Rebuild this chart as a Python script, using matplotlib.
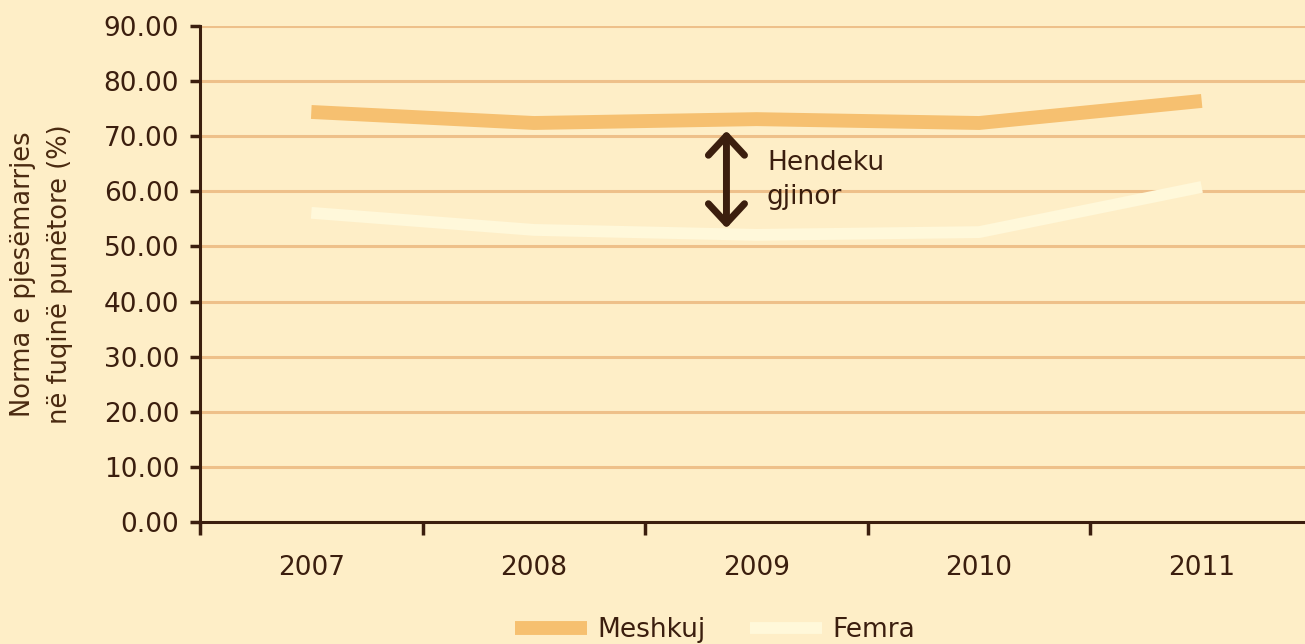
import numpy as np
import matplotlib.pyplot as plt

# data
years = ['2007', '2008', '2009', '2010', '2011']
meshkuj = [74.4, 72.4, 73.1, 72.4, 76.4]
femra = [56.1, 53.0, 52.1, 52.6, 60.8]
yticks = [0, 10, 20, 30, 40, 50, 60, 70, 80, 90]

bg = '#FEEEC7'
dark = '#3B1E0E'
c_m = '#F6C070'
c_f = '#FFF8DA'
c_grid = '#EEC08A'

plt.rcParams['font.family'] = 'DejaVu Sans'

fig = plt.figure(figsize=(13.05, 6.44), dpi=100, facecolor=bg)
ax = fig.add_axes([200/1305, 1-522/644, 1113/1305, 496/644], facecolor=bg)

x = np.arange(len(years))
ax.plot(x, meshkuj, color=c_m, lw=10, solid_capstyle='butt', solid_joinstyle='round', zorder=3, label='Meshkuj')
ax.plot(x, femra, color=c_f, lw=8.5, solid_capstyle='butt', solid_joinstyle='round', zorder=3, label='Femra')

ax.set_xlim(-0.5, 4.5)
ax.set_ylim(0, 90)
ax.set_yticks(yticks)
ax.set_yticklabels(['%.2f' % v for v in yticks])
ax.set_xticks(x)
ax.set_xticklabels(years)
ax.set_xticks(np.arange(-0.5, 5.0, 1.0), minor=True)

for v in yticks[1:]:
    ax.axhline(v, color=c_grid, lw=2.2, zorder=1)

for s in ['top', 'right']:
    ax.spines[s].set_visible(False)
ax.spines['left'].set_color(dark)
ax.spines['bottom'].set_color(dark)
ax.spines['left'].set_linewidth(2.2)
ax.spines['bottom'].set_linewidth(2.2)
ax.spines['bottom'].set_zorder(4)

ax.tick_params(axis='y', colors=dark, length=7, width=2.5, pad=8, labelsize=19)
ax.tick_params(axis='x', which='major', length=0, pad=24, labelsize=19, labelcolor=dark)
ax.tick_params(axis='x', which='minor', length=9, width=2.5, color=dark)

ax.set_ylabel('Norma e pjesëmarrjes\nnë fuqinë punëtore (%)', fontsize=18.5,
              color='#4A2A10', linespacing=1.55, labelpad=22)

ax.annotate('', xy=(1.865, 71.0), xytext=(1.865, 53.3),
            arrowprops=dict(arrowstyle='<->,head_length=0.7,head_width=0.65',
                            lw=5, color=dark, mutation_scale=20,
                            shrinkA=0, shrinkB=0), zorder=5)
ax.text(2.047, 62.0, 'Hendeku\ngjinor', fontsize=19, color=dark,
        ha='left', va='center', linespacing=1.4, zorder=5)

fig.legend(loc='center', bbox_to_anchor=(0.548, 0.022), ncol=2, frameon=False,
           fontsize=19, labelcolor=dark, handlelength=2.7, handletextpad=0.4,
           columnspacing=1.7)

fig.savefig('out.png', dpi=100, facecolor=bg)
